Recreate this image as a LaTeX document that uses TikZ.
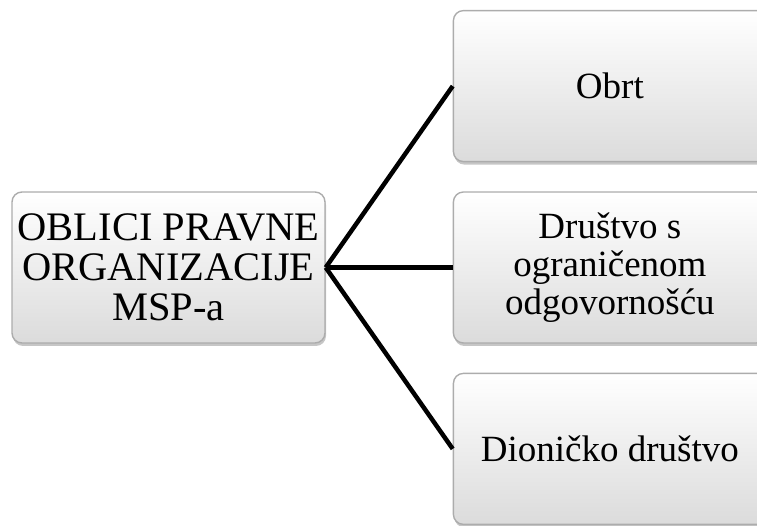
\documentclass[tikz,border=0pt]{standalone}
\usepackage{fontspec}
\setmainfont{Liberation Serif}
\usetikzlibrary{positioning, shadows}
\tikzstyle{formbox} = [rectangle, rounded corners=10pt, minimum width=313pt, minimum height=151pt, text centered, align=center, draw=gray!65, line width=1.4pt, top color=white, bottom color=gray!28, drop shadow={shadow xshift=1pt, shadow yshift=-3pt, opacity=0.45}]
\tikzstyle{link} = [line width=4.5pt, black]
\tikzset{
  font={\fontsize{37pt}{38pt}\selectfont}}

\begin{document}
\begin{tikzpicture}[x=1pt, y=1pt, node distance = 29pt]
    \useasboundingbox (0,0) rectangle (757,526);
    \node (oblici) [formbox, font={\fontsize{40.5pt}{40pt}\selectfont}] at (168.5,258.5) {OBLICI PRAVNE\\ORGANIZACIJE\\MSP-a};
    \node (doo) [formbox, right=127pt of oblici] {Društvo s\\ograničenom\\odgovornošću};
    \node (obrt) [formbox, above=of doo] {Obrt};
    \node (dd) [formbox, below=of doo] {Dioničko društvo};

    \draw [link] (oblici.east) -- (obrt.west);
    \draw [link] (oblici.east) -- (doo.west);
    \draw [link] (oblici.east) -- (dd.west);
\end{tikzpicture}
\end{document}
